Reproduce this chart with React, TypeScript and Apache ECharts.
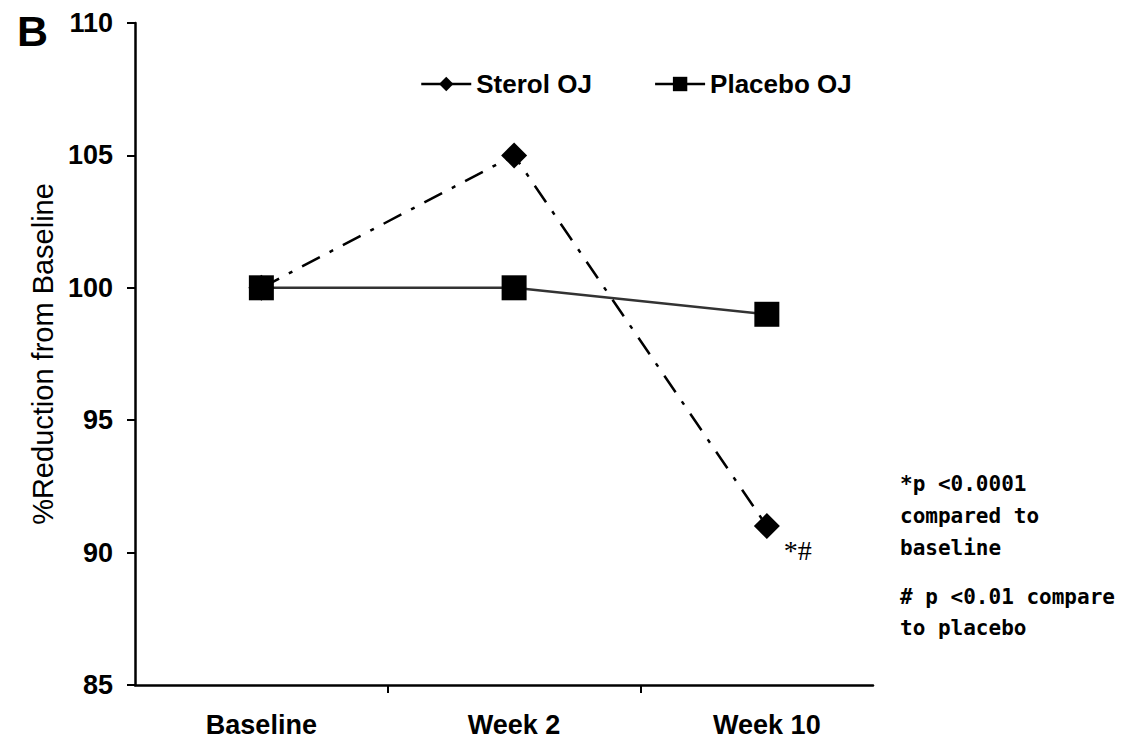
import React, { useEffect, useRef } from "react";
import * as echarts from "echarts";

const categories = ["Baseline", "Week 2", "Week 10"];
const sterolOJ = [100, 105, 91];
const placeboOJ = [100, 100, 99];
const sterolMarks = ["", "", "*#"];
const yMin = 85;
const yMax = 110;
const yStep = 5;
const panelLetter = "B";
const yTitle = "%Reduction from Baseline";
const noteA = ["*p <0.0001", "compared to", "baseline"];
const noteB = ["# p <0.01 compare", "to placebo"];

const SANS = "'Liberation Sans', Arial, sans-serif";
const NOTE_FONT = "'DejaVu Sans Mono', monospace";

export default function App() {
  const ref = useRef<HTMLDivElement>(null);
  useEffect(() => {
    if (!ref.current) return;
    const chart = echarts.init(ref.current, undefined, { renderer: "svg" });
    const option = {
      animation: false,
      backgroundColor: "#ffffff",
      grid: { left: 135, right: 265, top: 23, bottom: 59, containLabel: false },
      legend: {
        left: 415,
        top: 66,
        itemWidth: 50,
        itemHeight: 18,
        itemGap: 62,
        textStyle: { fontFamily: SANS, fontWeight: "bold", fontSize: 26, color: "#000" },
        lineStyle: { type: "solid", width: 2.5, color: "#000" },
        data: ["Sterol OJ", "Placebo OJ"],
      },
      xAxis: {
        type: "value",
        min: -0.5,
        max: 2.42,
        splitLine: { show: false },
        axisLine: { show: true, onZero: false, lineStyle: { color: "#000", width: 2.5 } },
        axisTick: { show: true, length: 8, lineStyle: { color: "#000", width: 2 }, customValues: [0.5, 1.5] },
        axisLabel: {
          show: true,
          customValues: [0, 1, 2],
          formatter: (v: number) => categories[Math.round(v)] ?? "",
          margin: 26,
          fontFamily: SANS,
          fontWeight: "bold",
          fontSize: 27,
          color: "#000",
        },
      },
      yAxis: {
        type: "value",
        min: yMin,
        max: yMax,
        interval: yStep,
        name: yTitle,
        nameLocation: "middle",
        nameGap: 59,
        nameTextStyle: { fontFamily: SANS, fontSize: 29, color: "#000" },
        splitLine: { show: false },
        axisLine: { show: true, onZero: false, lineStyle: { color: "#000", width: 2.5 } },
        axisTick: { show: true, length: 8, lineStyle: { color: "#000", width: 2 } },
        axisLabel: { margin: 22, fontFamily: SANS, fontWeight: "bold", fontSize: 27, color: "#000" },
      },
      series: [
        {
          name: "Placebo OJ",
          type: "line",
          data: placeboOJ.map((v, i) => [i, v]),
          symbol: "rect",
          symbolSize: 25,
          itemStyle: { color: "#000" },
          lineStyle: { color: "#333", width: 2.5, type: "solid" },
          z: 2,
        },
        {
          name: "Sterol OJ",
          type: "line",
          data: sterolOJ.map((v, i) => ({
            value: [i, v],
            label: sterolMarks[i]
              ? {
                  show: true,
                  formatter: sterolMarks[i],
                  position: "right",
                  distance: 4,
                  offset: [0, 24],
                  fontFamily: "'Liberation Serif', 'Times New Roman', serif",
                  fontSize: 28,
                  color: "#000",
                }
              : { show: false },
          })),
          symbol: "diamond",
          symbolSize: 26,
          itemStyle: { color: "#000" },
          lineStyle: { color: "#000", width: 2.5, type: [20, 11, 4, 11] },
          z: 3,
        },
      ],
      graphic: [
        {
          type: "text",
          left: 17,
          top: 9,
          style: { text: panelLetter, fontFamily: SANS, fontWeight: "bold", fontSize: 43, fill: "#000" },
        },
        {
          type: "text",
          x: 900,
          y: 468,
          style: {
            text: noteA.join("\n"),
            fontFamily: NOTE_FONT,
            fontWeight: "bold",
            fontSize: 21,
            lineHeight: 32,
            fill: "#000",
            verticalAlign: "top",
          },
        },
        {
          type: "text",
          x: 900,
          y: 581,
          style: {
            text: noteB.join("\n"),
            fontFamily: NOTE_FONT,
            fontWeight: "bold",
            fontSize: 21,
            lineHeight: 31,
            fill: "#000",
            verticalAlign: "top",
          },
        },
      ],
    };
    chart.setOption(option as any);
    return () => chart.dispose();
  }, []);
  return (
    <div
      ref={ref}
      style={{ position: "fixed", left: 0, top: 0, width: 1138, height: 744, background: "#fff" }}
    />
  );
}
